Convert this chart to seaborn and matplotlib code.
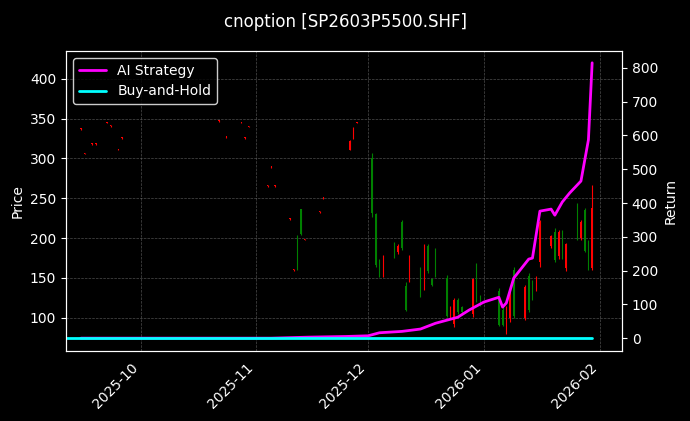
import numpy as np
import pandas as pd
import matplotlib
matplotlib.use("Agg")
import matplotlib.pyplot as plt
import matplotlib.dates as mdates
import seaborn as sns

sns.set_style("dark")
plt.style.use("dark_background")
plt.rcParams['font.family'] = ['DejaVu Sans']

# candle data
c_dates = ["2025-09-15", "2025-09-16", "2025-09-18", "2025-09-19", "2025-09-22", "2025-09-23",
           "2025-09-25", "2025-09-26", "2025-10-22", "2025-10-24", "2025-10-28", "2025-10-29",
           "2025-10-30", "2025-11-04", "2025-11-05", "2025-11-06", "2025-11-10", "2025-11-11",
           "2025-11-12", "2025-11-13", "2025-11-14", "2025-11-18", "2025-11-19", "2025-11-26",
           "2025-11-27", "2025-11-28",
           "2025-12-02", "2025-12-03", "2025-12-04", "2025-12-05", "2025-12-08", "2025-12-09",
           "2025-12-10", "2025-12-11", "2025-12-12", "2025-12-15", "2025-12-16", "2025-12-17",
           "2025-12-18", "2025-12-19", "2025-12-22", "2025-12-23", "2025-12-24", "2025-12-25",
           "2025-12-26", "2025-12-29", "2025-12-30", "2025-12-31", "2026-01-05", "2026-01-06",
           "2026-01-07", "2026-01-08", "2026-01-09", "2026-01-12", "2026-01-13", "2026-01-14",
           "2026-01-15", "2026-01-16", "2026-01-19", "2026-01-20", "2026-01-21", "2026-01-22",
           "2026-01-23", "2026-01-26", "2026-01-27", "2026-01-28", "2026-01-29", "2026-01-30"]
c_open = [337, 306, 318, 318, 345, 341, 311, 326, 347, 327, 345, 326, 340, 265, 289, 265, 224, 160,
          200, 237, 198, 233, 250, 311, 325, 345,
          300, 230, 172, 155, 192, 182, 220, 140, 150, 160, 140, 190, 149, 185, 150, 100, 92, 122,
          113, 105, 165, 126, 133, 110, 82, 100, 160, 100, 152, 145, 135, 170, 190, 208, 177, 206,
          162, 240, 200, 235, 195, 162]
c_high = [338, 307, 319, 319, 346, 342, 312, 327, 348, 328, 346, 327, 341, 266, 290, 266, 225, 161,
          204, 237, 199, 234, 251, 323, 340, 346,
          307, 232, 173, 179, 195, 193, 223, 145, 179, 163, 193, 192, 150, 188, 154, 115, 125, 125,
          115, 150, 169, 128, 137, 113, 114, 138, 164, 141, 156, 147, 152, 223, 204, 212, 210, 210,
          194, 244, 223, 238, 198, 267]
c_low = [336, 305, 317, 317, 344, 340, 310, 325, 346, 326, 344, 325, 339, 264, 288, 264, 223, 159,
         160, 204, 197, 232, 249, 311, 325, 344,
         227, 164, 151, 151, 175, 180, 185, 108, 145, 126, 135, 156, 140, 151, 101, 100, 88, 105,
         105, 101, 119, 114, 89, 89, 79, 94, 100, 97, 107, 122, 133, 163, 188, 170, 173, 173,
         158, 198, 198, 182, 160, 160]
c_close = [338, 307, 319, 319, 346, 342, 312, 327, 348, 328, 346, 327, 341, 266, 290, 266, 225, 161,
           167, 205, 199, 234, 251, 322, 338, 346,
           232, 166, 153, 176, 178, 190, 188, 110, 175, 128, 190, 158, 141, 153, 102, 113, 122, 107,
           107, 148, 122, 116, 91, 91, 112, 136, 102, 139, 109, 124, 150, 220, 202, 172, 208, 175,
           192, 200, 220, 184, 162, 238]

# strategy return points
r_dates = ["2025-09-15", "2025-11-05", "2025-11-15", "2025-11-25", "2025-12-01", "2025-12-04",
           "2025-12-10", "2025-12-15", "2025-12-19", "2025-12-25", "2025-12-28", "2026-01-01",
           "2026-01-05", "2026-01-06", "2026-01-07", "2026-01-09", "2026-01-13", "2026-01-14",
           "2026-01-16", "2026-01-19", "2026-01-20", "2026-01-22", "2026-01-24", "2026-01-27",
           "2026-01-29", "2026-01-30"]
r_ai = [0, 0, 3, 5, 7, 16, 20, 27, 44, 62, 83, 107, 121, 92, 104, 178, 234, 237, 376, 382, 364,
        403, 430, 465, 587, 815]
bh_dates = ["2025-09-11", "2026-01-30"]
r_bh = [0, 0]

cd = pd.DataFrame({"date": pd.to_datetime(c_dates), "o": c_open, "h": c_high,
                   "l": c_low, "c": c_close})
rd = pd.DataFrame({"date": pd.to_datetime(r_dates), "ret": r_ai})
bd = pd.DataFrame({"date": pd.to_datetime(bh_dates), "ret": r_bh})

x_lo, x_hi = pd.Timestamp("2025-09-11"), pd.Timestamp("2026-02-07")

fig = plt.figure(figsize=(6.9, 4.21), dpi=100, facecolor="black")
ax = fig.add_axes([66 / 690, 1 - 351 / 421, 556 / 690, 300 / 421])
ax.set_facecolor("black")

colors = np.where(cd["c"] >= cd["o"], "red", "green")
ax.vlines(cd["date"], cd["l"], cd["h"], colors=colors, linewidth=0.8)
body_lo = np.minimum(cd["o"], cd["c"])
body_h = np.maximum(np.abs(cd["c"] - cd["o"]), 0.6)
ax.bar(cd["date"], body_h, bottom=body_lo, width=0.35, color=colors, linewidth=0)

ax.set_ylim(58, 435)
ax.set_xlim(x_lo, x_hi)
ax.set_ylabel("Price")
ax.grid(True, color="gray", linestyle="--", linewidth=0.5, alpha=0.6)
ax.xaxis.set_major_locator(mdates.MonthLocator())
ax.xaxis.set_major_formatter(mdates.DateFormatter("%Y-%m"))
plt.setp(ax.get_xticklabels(), rotation=45, ha="right")

ax2 = ax.twinx()
sns.lineplot(data=rd, x="date", y="ret", ax=ax2, color="magenta", linewidth=2, label="AI Strategy")
sns.lineplot(data=bd, x="date", y="ret", ax=ax2, color="cyan", linewidth=2, label="Buy-and-Hold")
ax2.set_ylim(-38, 850)
ax2.set_ylabel("Return")
ax2.set_xlabel("")
ax2.legend(loc="upper left", facecolor="black", edgecolor="white")
ax2.set_xlim(x_lo, x_hi)

fig.suptitle("cnoption [SP2603P5500.SHF]", y=0.97)
fig.savefig("out.png", dpi=100, facecolor="black")
